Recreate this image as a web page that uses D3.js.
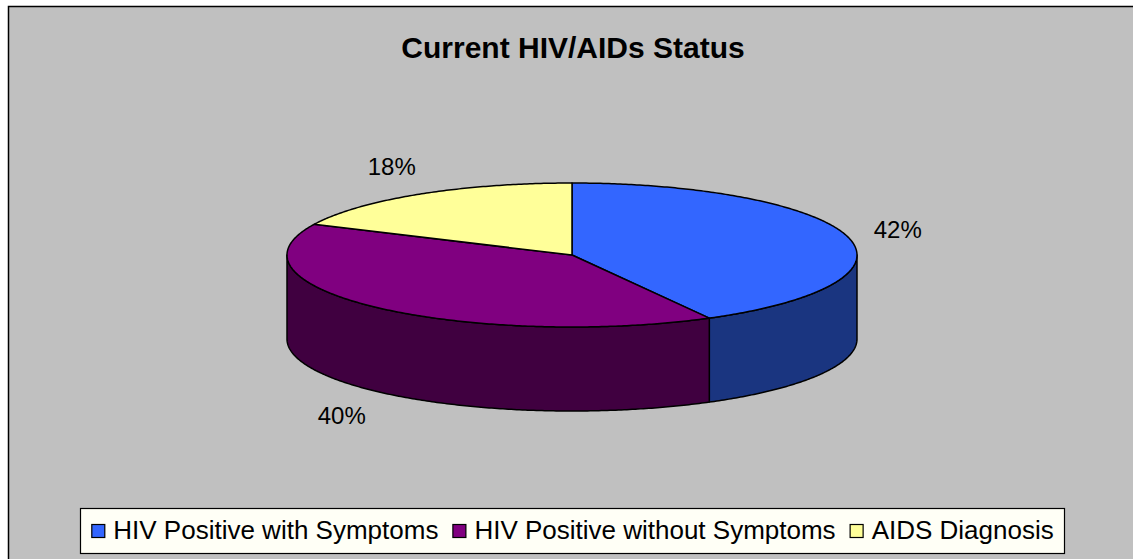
<!DOCTYPE html>
<html lang="en">
  <head>
    <meta charset="utf-8">
    <title>Current HIV/AIDs Status</title>
    <script src="https://d3js.org/d3.v7.js"></script>
    <style>
      body { margin: 0; background: #fff; }
      text { font-family: "Liberation Sans", Arial, sans-serif; }
    </style>
  </head>
  <body>
    <script>
  var w = 1133;
  var h = 559;

  // data
  var chartTitle = "Current HIV/AIDs Status";
  var categories = ["HIV Positive with Symptoms", "HIV Positive without Symptoms", "AIDS Diagnosis"];
  var values = [42, 40, 18];
  var topColors = ["#3366ff", "#800080", "#ffff99"];
  var sideColors = ["#1a3580", "#400040", "#80804c"];

  // pie geometry (ellipse seen at a tilt)
  var cx = 572, cy = 255, rx = 285, ry = 72, depth = 84;

  var svg = d3.select("body")
    .append("svg")
    .attr("width", w)
    .attr("height", h);

  // chart area
  svg.append("rect")
    .attr("x", 8.5).attr("y", 6.5)
    .attr("width", w + 20).attr("height", h + 20)
    .attr("fill", "#c0c0c0")
    .attr("stroke", "#000")
    .attr("stroke-width", 1.5);

  svg.append("text")
    .attr("x", 573).attr("y", 58)
    .attr("text-anchor", "middle")
    .attr("font-size", 30)
    .attr("font-weight", "bold")
    .text(chartTitle);

  var pie = d3.pie().sort(null).value(function (d) { return d; });
  var arcs = pie(values);

  // angle 0 at top, clockwise
  function px(a) { return cx + rx * Math.sin(a); }
  function py(a) { return cy - ry * Math.cos(a); }

  var line = d3.line();

  function arcPoints(a0, a1, dy) {
    var n = Math.max(2, Math.ceil(Math.abs(a1 - a0) / 0.01));
    return d3.range(n + 1).map(function (i) {
      var a = a0 + (a1 - a0) * i / n;
      return [px(a), py(a) + dy];
    });
  }

  // outer walls, only the front half is visible
  var g = svg.append("g");
  arcs.forEach(function (d, i) {
    var a0 = Math.max(d.startAngle, Math.PI / 2);
    var a1 = Math.min(d.endAngle, Math.PI * 1.5);
    if (a1 <= a0) return;
    var pts = arcPoints(a0, a1, 0).concat(arcPoints(a1, a0, depth));
    g.append("path")
      .attr("d", line(pts) + "Z")
      .attr("fill", sideColors[i])
      .attr("stroke", "#000")
      .attr("stroke-width", 1.5)
      .attr("stroke-linejoin", "round");
  });

  // top faces
  arcs.forEach(function (d, i) {
    var pts = [[cx, cy]].concat(arcPoints(d.startAngle, d.endAngle, 0));
    g.append("path")
      .attr("d", line(pts) + "Z")
      .attr("fill", topColors[i])
      .attr("stroke", "#000")
      .attr("stroke-width", 1.5)
      .attr("stroke-linejoin", "round");
  });

  // percent labels
  var total = d3.sum(values);
  arcs.forEach(function (d) {
    var m = (d.startAngle + d.endAngle) / 2;
    var lx = cx + rx * 1.18 * Math.sin(m);
    var ly = cy - ry * 1.45 * Math.cos(m) + (Math.cos(m) < 0 ? depth : 0);
    svg.append("text")
      .attr("x", lx).attr("y", ly)
      .attr("text-anchor", "middle")
      .attr("dominant-baseline", "central")
      .attr("font-size", 24)
      .text(Math.round(d.value / total * 100) + "%");
  });

  // legend
  var legend = svg.append("g");
  var box = legend.append("rect")
    .attr("fill", "#fffff6")
    .attr("stroke", "#000")
    .attr("stroke-width", 1.2);
  var x = 0;
  var items = [];
  categories.forEach(function (c, i) {
    var sq = legend.append("rect")
      .attr("x", x + 0.5).attr("y", 524.5)
      .attr("width", 13).attr("height", 13)
      .attr("fill", topColors[i])
      .attr("stroke", "#000")
      .attr("stroke-width", 1.2);
    var t = legend.append("text")
      .attr("x", x + 22).attr("y", 539)
      .attr("font-size", 26)
      .text(c);
    x += 22 + t.node().getComputedTextLength() + 14;
  });
  var legW = x - 14;
  var x0 = 572.5 - legW / 2;
  legend.selectAll("rect").filter(function () { return this !== box.node(); })
    .attr("x", function () { return +d3.select(this).attr("x") + x0; });
  legend.selectAll("text")
    .attr("x", function () { return +d3.select(this).attr("x") + x0; });
  box.attr("x", Math.round(x0 - 11) + 0.5).attr("y", 508.5)
    .attr("width", Math.round(legW + 22)).attr("height", 45);
    </script>
  </body>
</html>
